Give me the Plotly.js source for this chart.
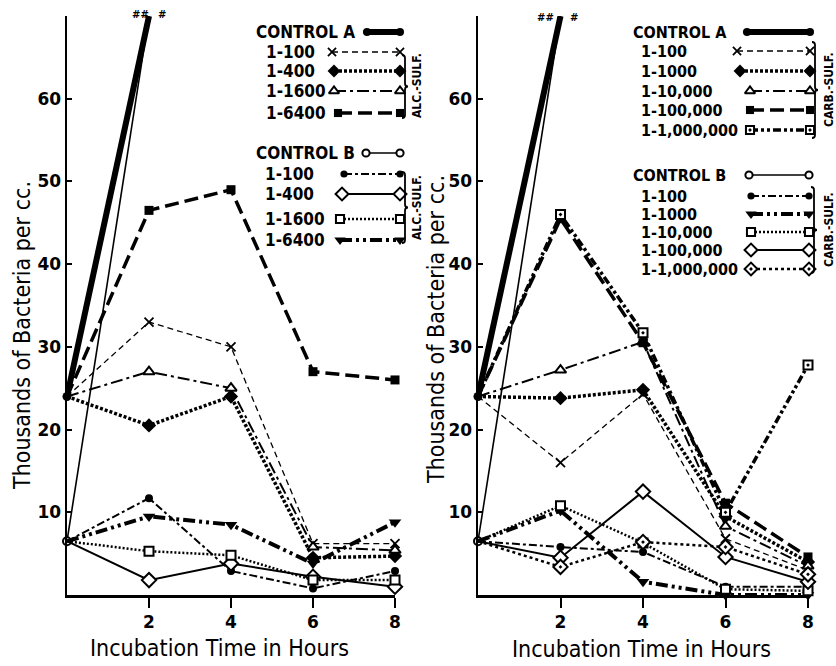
<!DOCTYPE html>
<html><head><meta charset="utf-8">
<script src="https://cdn.plot.ly/plotly-3.0.1.min.js"></script>
<style>html,body{margin:0;padding:0;background:#fff}</style>
</head><body><div id="chart" style="width:836px;height:666px"></div>
<script>
// ---------- DATA ----------
const hours = [0, 2, 4, 6, 8];
const controlHours = [0, 2];
const xTicks = [2, 4, 6, 8];
const yTicks = [10, 20, 30, 40, 50, 60];

// Alcohol-sulfate panel
const alcLabelsA = ['CONTROL A', '1-100', '1-400', '1-1600', '1-6400'];
const alcLabelsB = ['CONTROL B', '1-100', '1-400', '1-1600', '1-6400'];
const alcControlA = [24, 70];
const alcA100  = [24, 33, 30, 6.2, 6.2];
const alcA400  = [24, 20.5, 24, 4.5, 4.7];
const alcA1600 = [24, 27, 25, 5.8, 5.4];
const alcA6400 = [24, 46.5, 49, 27, 26];
const alcControlB = [6.5, 70];
const alcB100  = [6.5, 11.7, 2.9, 0.8, 2.9];
const alcB400  = [6.5, 1.8, 3.8, 2.2, 1.0];
const alcB1600 = [6.5, 5.3, 4.8, 1.8, 1.8];
const alcB6400 = [6.5, 9.5, 8.5, 3.8, 8.8];

// Carbolic-sulfate panel
const carbLabelsA = ['CONTROL A', '1-100', '1-1000', '1-10,000', '1-100,000', '1-1,000,000'];
const carbLabelsB = ['CONTROL B', '1-100', '1-1000', '1-10,000', '1-100,000', '1-1,000,000'];
const carbControlA = [24, 70];
const carbA100     = [24, 16, 24.3, 6.8, 3.0];
const carbA1000    = [24, 23.8, 24.8, 9.5, 4.0];
const carbA10000   = [24, 27.2, 30.6, 8.3, 3.5];
const carbA100000  = [24, 45.5, 30.5, 11.1, 4.6];
const carbA1000000 = [24, 46, 31.7, 10, 27.8];
const carbControlB = [6.5, 70];
const carbB100     = [6.5, 5.8, 5.2, 1.0, 1.0];
const carbB1000    = [6.5, 10.2, 1.6, 0, 0];
const carbB10000   = [6.5, 10.8, 6.3, 0.7, 0.5];
const carbB100000  = [6.5, 4.5, 12.5, 4.6, 1.6];
const carbB1000000 = [6.5, 3.4, 6.4, 5.8, 2.5];

// ---------- STYLES ----------
const K = '#000';
function sty(w, d, sym, sz, open) { return {w, d, sym, sz, open}; }
const S = {
  ctrlA: sty(6, 'solid', 'circle', 9, false),
  thinX: sty(1.3, '6px,4px', 'x-thin', 9, false),
  xxDiamond: sty(3.5, '3px,2px', 'diamond', 11, false),
  dashDotTri: sty(2, '12px,4px,3px,4px', 'triangle-up', 10, true),
  thickSq: sty(3.5, '14px,6px', 'square', 9, false),
  ctrlB: sty(1.6, 'solid', 'circle', 8, true),
  dashXCirc: sty(2, '8px,3px,3px,3px', 'circle', 8, false),
  solidDia: sty(2, 'solid', 'diamond', 11, true),
  dotSq: sty(2.5, '2px,2px', 'square', 9, true),
  thickTriDown: sty(4, '12px,4px,3px,4px,3px,4px', 'triangle-down', 11, false),
  dotDashSqDot: sty(3.5, '8px,3px,3px,3px,3px,3px', 'square-dot', 9, true),
  dotXDia: sty(2.5, '3px,3px', 'diamond-dot', 11, true)
};
const alcStyles = [S.ctrlA, S.thinX, S.xxDiamond, S.dashDotTri, S.thickSq,
                   S.ctrlB, S.dashXCirc, S.solidDia, S.dotSq, S.thickTriDown];
const carbStyles = [S.ctrlA, S.thinX, S.xxDiamond, S.dashDotTri, S.thickSq, S.dotDashSqDot,
                    S.ctrlB, S.dashXCirc, S.thickTriDown, S.dotSq, S.solidDia, S.dotXDia];

const alcSeries = [alcControlA, alcA100, alcA400, alcA1600, alcA6400,
                   alcControlB, alcB100, alcB400, alcB1600, alcB6400];
const carbSeries = [carbControlA, carbA100, carbA1000, carbA10000, carbA100000, carbA1000000,
                    carbControlB, carbB100, carbB1000, carbB10000, carbB100000, carbB1000000];

function mk(st, sizes) {
  return {symbol: st.sym, size: sizes, color: st.open ? '#fff' : K, opacity: 1,
          line: {color: K, width: st.open ? 2 : (st.sym === 'x-thin' ? 1.8 : 0)}};
}

const traces = [];
function addPanel(series, styles, xa, ya) {
  series.forEach((vals, i) => {
    const st = styles[i];
    const isCtrl = vals.length === 2;
    const xs = isCtrl ? controlHours : hours;
    const sizes = xs.map((_, j) => isCtrl ? (j === 0 ? st.sz : 0) : (j === 0 ? 0 : st.sz));
    traces.push({x: xs, y: vals, xaxis: xa, yaxis: ya, type: 'scatter', mode: 'lines+markers',
      line: {color: K, width: st.w, dash: st.d}, marker: mk(st, sizes),
      cliponaxis: false, showlegend: false, hoverinfo: 'skip'});
  });
}
addPanel(alcSeries, alcStyles, 'x', 'y');
addPanel(carbSeries, carbStyles, 'x2', 'y2');

// ---------- LEGENDS (pixel overlay axes x3/y3) ----------
const annotations = [];
const shapes = [];
function legendBlock(labels, styles, rowsY, textX, sx0, sx1, fsize) {
  const f = {family: 'DejaVu Sans Condensed', size: fsize, color: K, weight: 'bold'};
  labels.forEach((lab, i) => {
    const st = styles[i];
    annotations.push({xref: 'x3', yref: 'y3', x: textX[i], y: rowsY[i], text: lab, showarrow: false,
      xanchor: 'left', yanchor: 'middle', font: f, borderpad: 0});
    traces.push({x: [sx0[i], sx1], y: [rowsY[i], rowsY[i]], xaxis: 'x3', yaxis: 'y3', type: 'scatter',
      mode: 'lines+markers', line: {color: K, width: st.w, dash: st.d}, marker: mk(st, st.sz * 0.9),
      cliponaxis: false, showlegend: false, hoverinfo: 'skip'});
  });
}
legendBlock(alcLabelsA, alcStyles.slice(0, 5), [32, 52, 71, 91, 113], [255, 265, 265, 265, 265],
            [367, 332, 334, 334, 338], 400, 17);
legendBlock(alcLabelsB, alcStyles.slice(5), [153, 174, 194, 219, 240], [255, 264, 264, 264, 264],
            [366, 344, 342, 340, 340], 400, 17);
legendBlock(carbLabelsA, carbStyles.slice(0, 6), [32, 51, 71, 91, 110, 130], [632, 640, 640, 640, 640, 640],
            [747, 737, 740, 750, 750, 750], 810, 16);
legendBlock(carbLabelsB, carbStyles.slice(6), [175, 196, 214, 232, 250, 269], [632, 640, 640, 640, 640, 640],
            [749, 751, 751, 751, 751, 751], 809, 16);

function brace(x, y0, y1, w) {
  const m = (y0 + y1) / 2;
  return `M ${x} ${y0} Q ${x + w} ${y0} ${x + w} ${y0 + w} L ${x + w} ${m - w} Q ${x + w} ${m} ${x + 2 * w} ${m} ` +
         `Q ${x + w} ${m} ${x + w} ${m + w} L ${x + w} ${y1 - w} Q ${x + w} ${y1} ${x} ${y1}`;
}
[[402, 55, 118], [402, 172, 243], [812, 42, 138], [811, 187, 273]].forEach(b => {
  shapes.push({type: 'path', xref: 'x3', yref: 'y3', path: brace(b[0], b[1], b[2], 3),
    line: {color: K, width: 1.8}});
});
const vFont = {family: 'DejaVu Sans Condensed', size: 12, color: K, weight: 'bold'};
[[417, 86, 'ALC.-SULF.'], [417, 208, 'ALC.-SULF.'], [829, 90, 'CARB.-SULF.'], [829, 230, 'CARB.-SULF.']]
  .forEach(v => annotations.push({xref: 'x3', yref: 'y3', x: v[0], y: v[1], text: v[2], textangle: -90,
    showarrow: false, font: vFont}));

// off-scale marks
[[140, 14, '##'], [162, 14, '#'], [545, 17, '##'], [574, 17, '#']].forEach(v =>
  annotations.push({xref: 'x3', yref: 'y3', x: v[0], y: v[1], text: v[2], showarrow: false,
    font: {family: 'DejaVu Sans', size: 10, color: K, weight: 'bold'}}));

// axis titles
const titleFont = {family: 'DejaVu Sans Condensed', size: 23, color: K};
[[219, 648, 'Incubation Time in Hours', 0], [641, 649, 'Incubation Time in Hours', 0],
 [22, 336, 'Thousands of Bacteria per cc.', -90], [436, 330, 'Thousands of Bacteria per cc.', -90]]
  .forEach(v => annotations.push({xref: 'x3', yref: 'y3', x: v[0], y: v[1], text: v[2], textangle: v[3],
    showarrow: false, font: titleFont, borderpad: 0}));

// ---------- LAYOUT ----------
const W = 836, H = 666;
const yDom = [(H - 595) / H, (H - 16) / H];
const tickFont = {family: 'DejaVu Sans', size: 17, color: K, weight: 'bold'};
function xAx(dom, anchor) {
  return {domain: dom, anchor: anchor, range: [0, 8], tickvals: xTicks, ticks: 'outside', ticklen: 10,
    tickwidth: 2, tickcolor: K, showline: true, linecolor: K, linewidth: 2.5, showgrid: false,
    zeroline: false, tickfont: tickFont, fixedrange: true};
}
function yAx(anchor) {
  return {domain: yDom, anchor: anchor, range: [0, 70], tickvals: yTicks, ticks: 'inside', ticklen: 5,
    tickwidth: 2, tickcolor: K, showline: true, linecolor: K, linewidth: 2.5, showgrid: false,
    zeroline: false, tickfont: tickFont, fixedrange: true};
}
const layout = {
  width: W, height: H, margin: {l: 0, r: 0, t: 0, b: 0},
  paper_bgcolor: '#fff', plot_bgcolor: 'rgba(0,0,0,0)', showlegend: false,
  xaxis: xAx([67 / W, 395 / W], 'y'),
  yaxis: yAx('x'),
  xaxis2: xAx([478 / W, 808 / W], 'y2'),
  yaxis2: yAx('x2'),
  xaxis3: {domain: [0, 1], anchor: 'y3', range: [0, W], visible: false, fixedrange: true},
  yaxis3: {domain: [0, 1], anchor: 'x3', range: [H, 0], visible: false, fixedrange: true},
  annotations: annotations, shapes: shapes
};
Plotly.newPlot('chart', traces, layout, {displayModeBar: false, staticPlot: true});
</script></body></html>
